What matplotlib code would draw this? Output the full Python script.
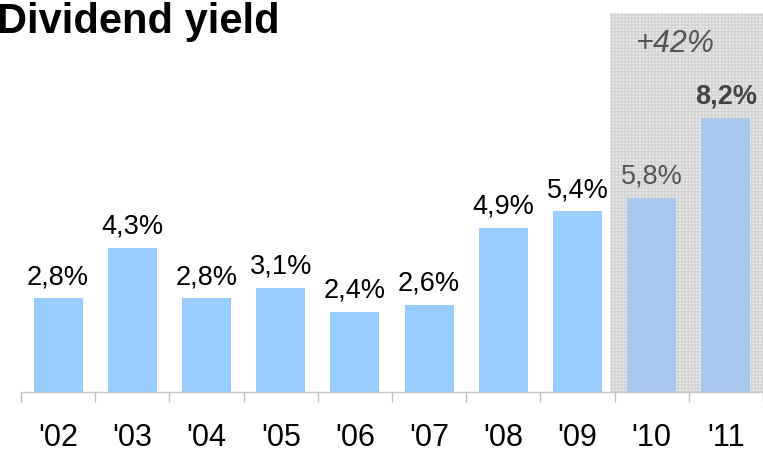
import numpy as np
import matplotlib
matplotlib.use('Agg')
import matplotlib.pyplot as plt

# dados
years = ["'02", "'03", "'04", "'05", "'06", "'07", "'08", "'09", "'10", "'11"]
yield_pct = [2.8, 4.3, 2.8, 3.1, 2.4, 2.6, 4.9, 5.4, 5.8, 8.2]
labels = ['2,8%', '4,3%', '2,8%', '3,1%', '2,4%', '2,6%', '4,9%', '5,4%', '5,8%', '8,2%']
growth_label = '+42%'

plt.rcParams['font.family'] = ['Liberation Sans', 'DejaVu Sans']

fig = plt.figure(figsize=(7.63, 4.51), dpi=100)
ax = fig.add_axes([21/763, 59/451, 742/763, 379/451])

x = np.arange(len(years))

# area sombreada dos ultimos dois anos
ax.axvspan(7.44, 9.5, facecolor='#ebebeb', edgecolor='#d3d3d3', hatch='+++++', lw=0, zorder=0)

colors = ['#99ccff'] * 8 + ['#a6c8ec'] * 2
ax.bar(x, yield_pct, width=0.66, color=colors, zorder=2)

for i, (v, lab) in enumerate(zip(yield_pct, labels)):
    if i == 9:
        ax.annotate(lab, (i, v), xytext=(0, 6), textcoords='offset points',
                    ha='center', va='bottom', fontsize=19.5, color='#444444', fontweight='bold')
    elif i == 8:
        ax.annotate(lab, (i, v), xytext=(0, 6), textcoords='offset points',
                    ha='center', va='bottom', fontsize=19.5, color='#555555')
    else:
        ax.annotate(lab, (i, v), xytext=(0, 6), textcoords='offset points',
                    ha='center', va='bottom', fontsize=19.5, color='black')

ax.text(8.31, 10.4, growth_label, ha='center', va='center', fontsize=22,
        style='italic', color='#555555')

ax.set_xlim(-0.5, 9.5)
ax.set_ylim(0, 11.33)

ax.set_xticks(x)
ax.set_xticklabels(years, fontsize=22)
ax.set_xticks(np.arange(-0.5, 10, 1), minor=True)
ax.tick_params(axis='x', which='major', length=0, pad=22)
ax.tick_params(axis='x', which='minor', length=7, color='#c0c0c0', width=1)
ax.set_yticks([])

for s in ['top', 'right', 'left']:
    ax.spines[s].set_visible(False)
ax.spines['bottom'].set_color('#c8c8c8')
ax.spines['bottom'].set_linewidth(1)

fig.text(-0.004, 0.995, 'Dividend yield', ha='left', va='top', fontsize=30, fontweight='bold')

fig.savefig('out.png', dpi=100)
